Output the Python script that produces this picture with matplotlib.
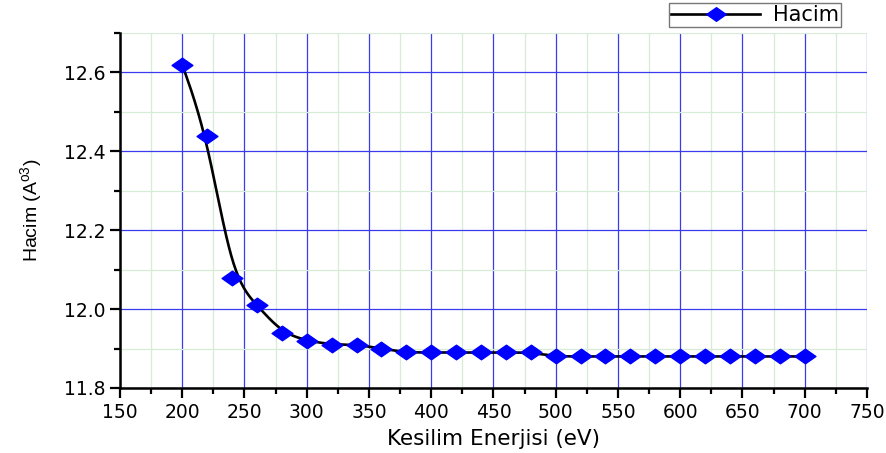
import numpy as np
import matplotlib
matplotlib.use('Agg')
from matplotlib import pyplot as plt
from matplotlib.path import Path
from matplotlib.ticker import MultipleLocator

plt.rcParams['font.family'] = ['DejaVu Sans']
plt.rcParams['mathtext.fontset'] = 'custom'
plt.rcParams['mathtext.rm'] = 'Liberation Sans'
plt.rcParams['mathtext.it'] = 'Liberation Sans'

# data
energy = [200, 220, 240, 260, 280, 300, 320, 340, 360, 380, 400, 420, 440,
          460, 480, 500, 520, 540, 560, 580, 600, 620, 640, 660, 680, 700]
volume = [12.62, 12.44, 12.08, 12.01, 11.94, 11.92, 11.91, 11.91, 11.90, 11.89,
          11.89, 11.89, 11.89, 11.89, 11.89, 11.88, 11.88, 11.88, 11.88, 11.88,
          11.88, 11.88, 11.88, 11.88, 11.88, 11.88]
xticks = [150, 200, 250, 300, 350, 400, 450, 500, 550, 600, 650, 700, 750]
yticks = [11.8, 12.0, 12.2, 12.4, 12.6]


def bspline(x, y, n=30):
    # uniform cubic B-spline, points used as control points (clamped ends)
    px = np.r_[[x[0]] * 2, x, [x[-1]] * 2].astype(float)
    py = np.r_[[y[0]] * 2, y, [y[-1]] * 2].astype(float)
    t = np.linspace(0, 1, n, endpoint=False)
    b0 = (1 - t) ** 3 / 6
    b1 = (3 * t**3 - 6 * t**2 + 4) / 6
    b2 = (-3 * t**3 + 3 * t**2 + 3 * t + 1) / 6
    b3 = t**3 / 6
    xs, ys = [], []
    for i in range(len(px) - 3):
        xs.append(b0 * px[i] + b1 * px[i+1] + b2 * px[i+2] + b3 * px[i+3])
        ys.append(b0 * py[i] + b1 * py[i+1] + b2 * py[i+2] + b3 * py[i+3])
    xs.append([px[-1]]); ys.append([py[-1]])
    return np.concatenate(xs), np.concatenate(ys)


diamond = Path([(-1, 0), (0, 0.7), (1, 0), (0, -0.7), (-1, 0)],
               [Path.MOVETO, Path.LINETO, Path.LINETO, Path.LINETO, Path.CLOSEPOLY])

fig = plt.figure(figsize=(8.87, 4.53), dpi=100)
ax = fig.add_axes([0.1353, 0.1435, 0.842, 0.7837])

sx, sy = bspline(np.array(energy), np.array(volume))
ax.plot(sx, sy, color='black', lw=1.9, zorder=3)
ax.plot(energy, volume, ls='none', marker=diamond, ms=15, color='#0000ff',
        mec='#0000ff', zorder=4)

ax.set_xlim(150, 750)
ax.set_ylim(11.8, 12.7)
ax.set_xticks(xticks)
ax.set_yticks(yticks)
ax.set_yticklabels(['%.1f' % v for v in yticks])
ax.xaxis.set_minor_locator(MultipleLocator(25))
ax.yaxis.set_minor_locator(MultipleLocator(0.1))

ax.grid(which='major', color='#3a3aee', lw=0.9, zorder=0)
ax.grid(which='minor', color='#d6ecd6', lw=0.9, zorder=0)
ax.set_axisbelow(True)

for s in ['top', 'right']:
    ax.spines[s].set_visible(False)
for s in ['left', 'bottom']:
    ax.spines[s].set_linewidth(1.8)

ax.tick_params(which='major', direction='out', length=7, width=1.6, labelsize=13.5)
ax.tick_params(which='minor', direction='out', length=4, width=1.6)

ax.set_xlabel('Kesilim Enerjisi (eV)', fontsize=15.5, labelpad=5)
ax.set_ylabel('Hacim (A$^{o3}$)', fontsize=14, labelpad=14,
              family=['Liberation Sans'])

h, = ax.plot([], [], color='black', lw=1.9, marker=diamond, ms=14,
             mfc='#0000ff', mec='#0000ff')
fig.legend([h], ['Hacim'], loc='upper right', bbox_to_anchor=(0.948, 0.994),
           fontsize=15, frameon=True, fancybox=False, edgecolor='#555555',
           handlelength=4.3, borderpad=0.1, handletextpad=0.6, borderaxespad=0)

fig.savefig('out.png', dpi=100)
